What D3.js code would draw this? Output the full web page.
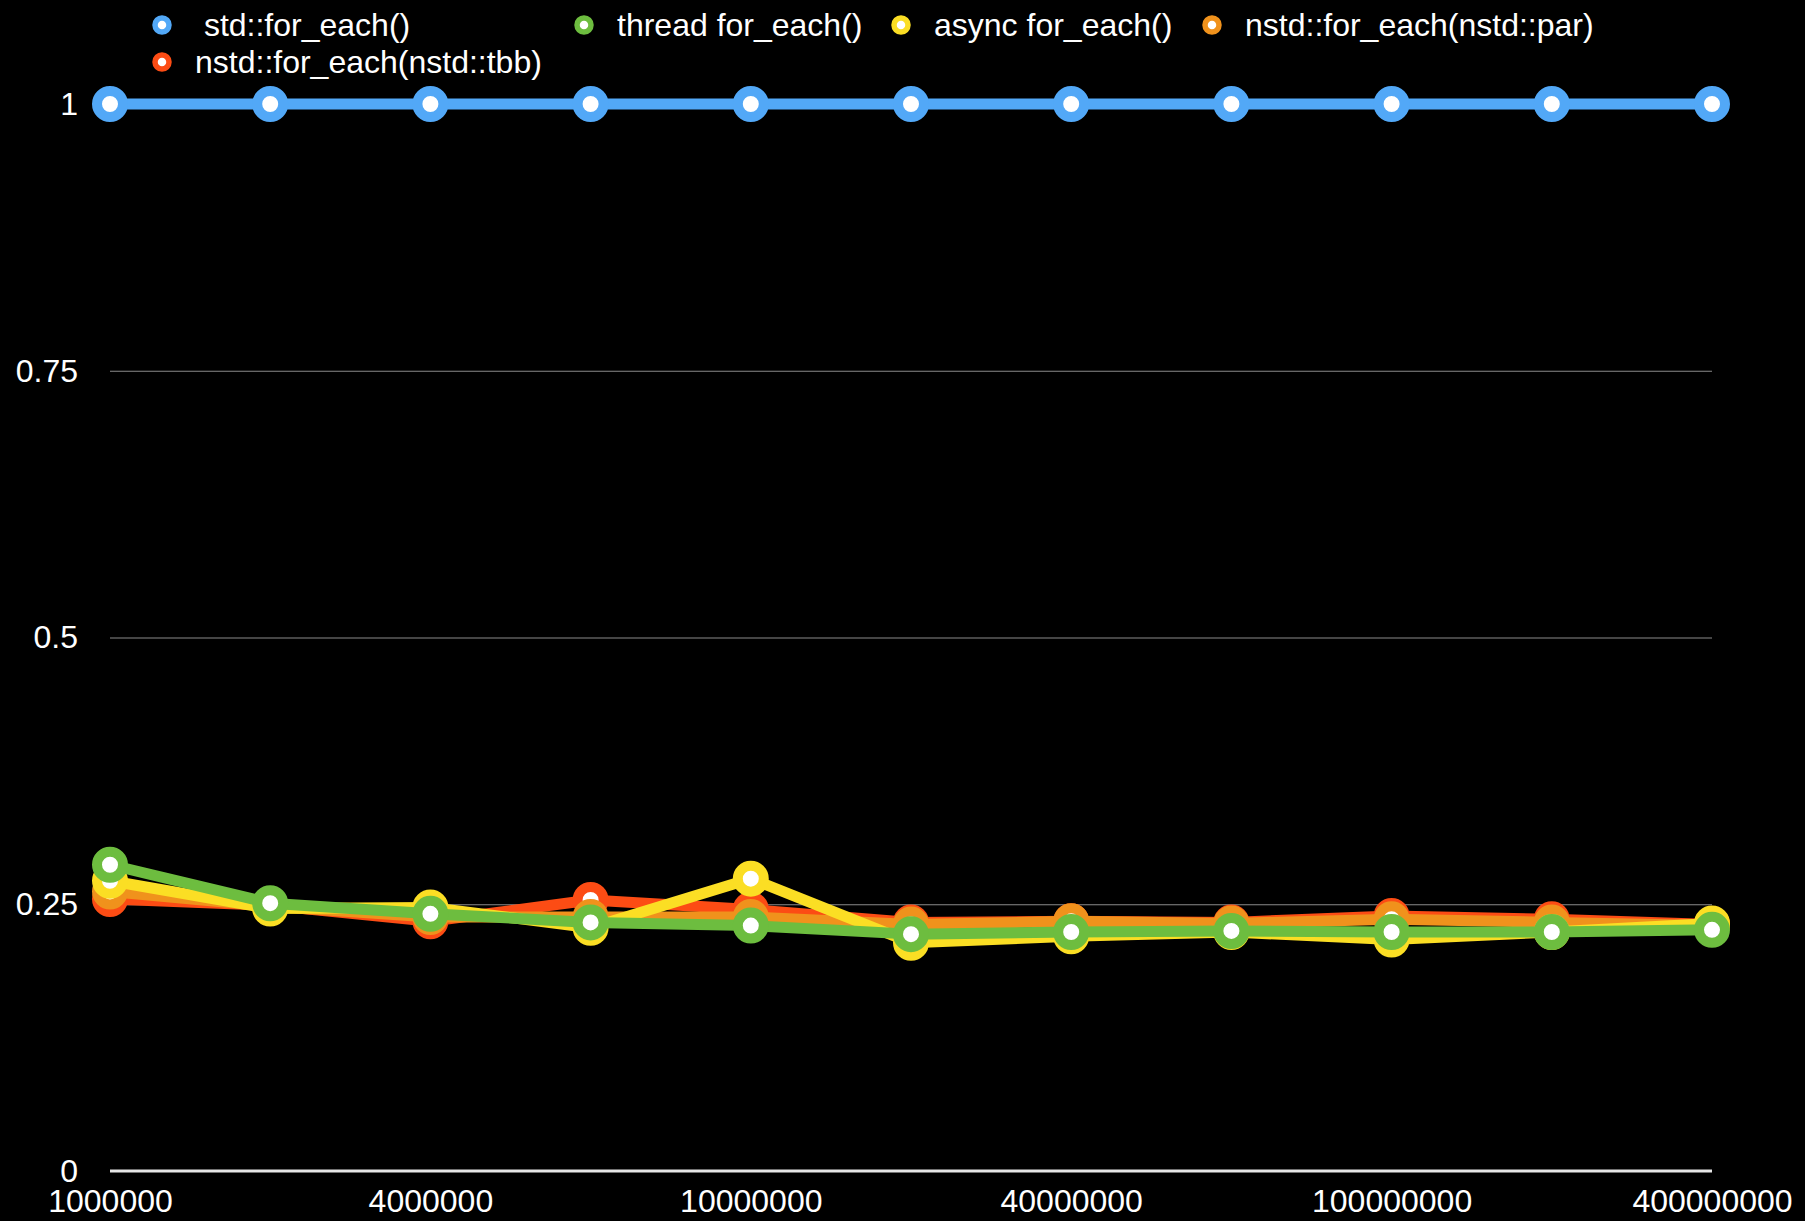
<!DOCTYPE html>
<html>
<head>
<meta charset="utf-8">
<script src="https://cdn.jsdelivr.net/npm/d3@7/dist/d3.min.js"></script>
<style>
  html, body { margin: 0; padding: 0; background: #000; }
  svg { display: block; font-family: "Liberation Sans", Arial, Helvetica, sans-serif; }
  text { fill: #fff; }
</style>
</head>
<body>
<svg id="chart"></svg>
<script>
// problem sizes (x categories), only every other one is labelled
var sizes = [1000000, 2000000, 4000000, 7000000, 10000000, 20000000, 40000000, 70000000, 100000000, 200000000, 400000000];
var xLabels = ["1000000", "4000000", "10000000", "40000000", "100000000", "400000000"];
var yTicks = [0, 0.25, 0.5, 0.75, 1];

// relative run time, std::for_each() == 1
var stdForEach   = [1, 1, 1, 1, 1, 1, 1, 1, 1, 1, 1];
var threadForEach = [0.287, 0.251, 0.241, 0.233, 0.230, 0.222, 0.224, 0.225, 0.224, 0.224, 0.226];
var asyncForEach  = [0.272, 0.246, 0.247, 0.228, 0.274, 0.214, 0.220, 0.224, 0.217, 0.224, 0.232];
var nstdPar       = [0.262, 0.248, 0.238, 0.238, 0.238, 0.231, 0.234, 0.232, 0.236, 0.233, 0.230];
var nstdTbb       = [0.255, 0.249, 0.234, 0.254, 0.245, 0.233, 0.234, 0.233, 0.239, 0.236, 0.231];

var seriesNames = [" std::for_each()", "thread for_each()", "async for_each()", "nstd::for_each(nstd::par)", "nstd::for_each(nstd::tbb)"];
var seriesValues = [stdForEach, threadForEach, asyncForEach, nstdPar, nstdTbb];
var colors = ["#52a8f7", "#6dbd3f", "#fbde24", "#f0921c", "#fc4c14"];

var width = 1805, height = 1221;
var plotLeft = 110, plotRight = 1712, plotTop = 104, plotBottom = 1171;

var svg = d3.select("#chart")
    .attr("width", width)
    .attr("height", height);

svg.append("rect").attr("width", width).attr("height", height).attr("fill", "#000");

var x = d3.scalePoint()
    .domain(sizes)
    .range([plotLeft, plotRight]);

var y = d3.scaleLinear()
    .domain([0, 1])
    .range([plotBottom, plotTop]);

// gridlines
var grid = svg.append("g")
    .attr("transform", "translate(" + plotLeft + ",0)")
    .call(d3.axisLeft(y).tickValues([0.25, 0.5, 0.75]).tickSize(-(plotRight - plotLeft)).tickFormat(""));
grid.select(".domain").remove();
grid.selectAll("line").attr("stroke", "#8a8a8a").attr("stroke-width", 1.2);

// y axis labels
var yAxis = svg.append("g")
    .attr("transform", "translate(" + 78 + ",0)")
    .call(d3.axisLeft(y).tickValues(yTicks).tickSize(0).tickPadding(0).tickFormat(function(d) { return String(d); }));
yAxis.select(".domain").remove();
yAxis.selectAll("text")
    .attr("fill", "#fff")
    .style("font-size", "32px")
    .attr("font-family", null);

// zero baseline
svg.append("line")
    .attr("x1", plotLeft).attr("x2", plotRight)
    .attr("y1", y(0)).attr("y2", y(0))
    .attr("stroke", "#e6e6e6")
    .attr("stroke-width", 3);

// x axis labels
var xAxis = svg.append("g")
    .attr("transform", "translate(0," + 1189 + ")")
    .call(d3.axisBottom(x)
        .tickValues(sizes.filter(function(d, i) { return i % 2 === 0; }))
        .tickSize(0).tickPadding(0)
        .tickFormat(function(d, i) { return xLabels[i]; }));
xAxis.select(".domain").remove();
xAxis.selectAll("text")
    .attr("fill", "#fff")
    .attr("dy", "0.71em")
    .style("font-size", "32px")
    .attr("font-family", null);

var line = d3.line()
    .x(function(d, i) { return x(sizes[i]); })
    .y(function(d) { return y(d); });

// draw last legend entry first so green ends up on top, blue on top of all
for (var k = seriesValues.length - 1; k >= 0; k--) {
    var g = svg.append("g").attr("class", "series");
    g.append("path")
        .datum(seriesValues[k])
        .attr("d", line)
        .attr("fill", "none")
        .attr("stroke", colors[k])
        .attr("stroke-width", 11)
        .attr("stroke-linejoin", "round");
    g.selectAll("circle")
        .data(seriesValues[k])
        .enter().append("circle")
        .attr("cx", function(d, i) { return x(sizes[i]); })
        .attr("cy", function(d) { return y(d); })
        .attr("r", 13)
        .attr("fill", "#fff")
        .attr("stroke", colors[k])
        .attr("stroke-width", 10);
}

// legend
var legendPos = [[162, 25], [584, 25], [901, 25], [1212, 25], [162, 62]];
var legend = svg.selectAll(".legend")
    .data(seriesNames)
    .enter().append("g")
    .attr("class", "legend")
    .attr("transform", function(d, i) { return "translate(" + legendPos[i][0] + "," + legendPos[i][1] + ")"; });

legend.append("circle")
    .attr("r", 7)
    .attr("fill", "#fff")
    .attr("stroke", function(d, i) { return colors[i]; })
    .attr("stroke-width", 5.5);

legend.append("text")
    .attr("x", 33)
    .attr("y", 11)
    .style("font-size", "32px")
    .style("white-space", "pre")
    .text(function(d) { return d; });
</script>
</body>
</html>
